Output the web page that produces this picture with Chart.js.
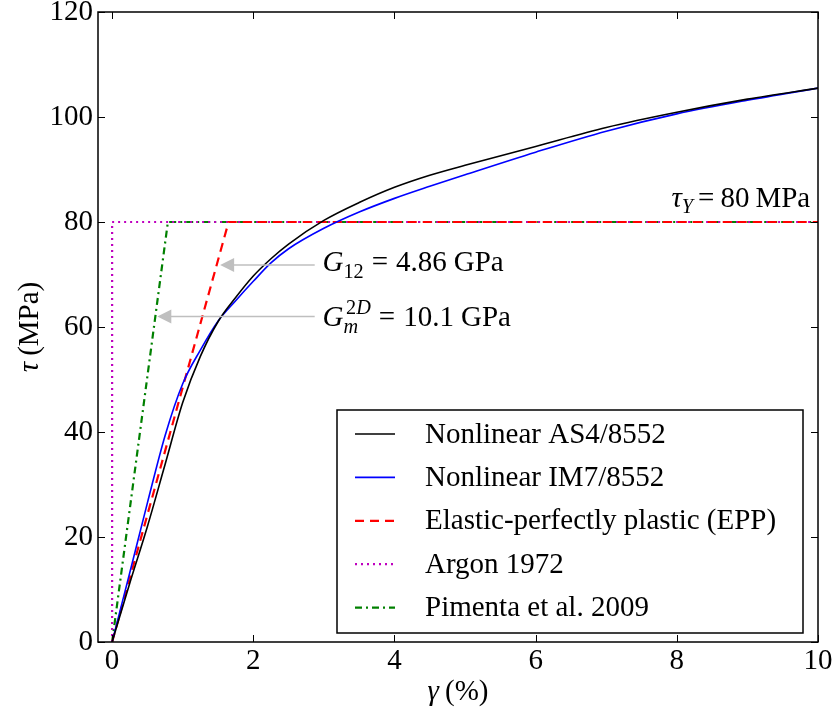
<!DOCTYPE html>
<html>
<head>
<meta charset="utf-8">
<script src="https://cdn.jsdelivr.net/npm/chart.js@4"></script>
<style>
  html, body { margin: 0; padding: 0; background: #fff; }
  #wrap { width: 835px; height: 712px; }
</style>
</head>
<body>
<div id="wrap"><canvas id="chart" width="835" height="712"></canvas></div>
<script>
// shear strain gamma (%) and shear stress tau (MPa)
const gammaNL = [0, 0.25, 0.5, 0.75, 1.0, 1.25, 1.5, 1.75, 2.0, 2.25, 2.5, 3.0, 3.5, 4.0, 4.5, 5.0, 6.0, 7.0, 8.0, 9.0, 10.0];
const tauAS4 = [0, 11.2, 22.0, 33.8, 45.6, 54.4, 61.0, 65.6, 69.7, 73.0, 75.8, 80.3, 83.7, 86.6, 88.9, 90.8, 94.4, 98.0, 100.9, 103.4, 105.5];
const tauIM7 = [0, 13.2, 26.5, 39.3, 49.2, 55.6, 61.1, 65.0, 68.7, 72.2, 74.9, 78.8, 81.9, 84.5, 86.8, 89.0, 93.3, 97.3, 100.6, 103.2, 105.5];

const gammaEPP = [0, 1.65, 10];
const tauEPP = [0, 80, 80];
const gammaArgon = [0, 0, 10];
const tauArgon = [0, 80, 80];
const gammaPimenta = [0, 0.79, 10];
const tauPimenta = [0, 80, 80];

const seriesLabels = ['Nonlinear AS4/8552', 'Nonlinear IM7/8552', 'Elastic-perfectly plastic (EPP)', 'Argon 1972', 'Pimenta et al. 2009'];
const xTicks = [0, 2, 4, 6, 8, 10];
const yTicks = [0, 20, 40, 60, 80, 100, 120];

const FONT = "'Liberation Serif', 'Times New Roman', serif";

const pts = (xs, ys) => xs.map((x, i) => ({ x: x, y: ys[i] }));

// draws a run of text pieces (italic / sub / sup) starting at x, baseline y
function drawRich(ctx, x, y, parts, size, align) {
  const measure = () => {
    let w = 0;
    parts.forEach(p => {
      const s = (p.sub || p.sup) ? size * 0.7 : size;
      ctx.font = (p.it ? 'italic ' : '') + s + 'px ' + FONT;
      w += ctx.measureText(p.t).width + (p.gap || 0);
    });
    return w;
  };
  if (align === 'right') x -= measure();
  if (align === 'center') x -= measure() / 2;
  parts.forEach(p => {
    const s = (p.sub || p.sup) ? size * 0.7 : size;
    ctx.font = (p.it ? 'italic ' : '') + s + 'px ' + FONT;
    let dy = 0;
    if (p.sub) dy = size * 0.22;
    if (p.sup) dy = -size * 0.42;
    ctx.fillText(p.t, x, y + dy);
    x += ctx.measureText(p.t).width + (p.gap || 0);
  });
}

function arrow(ctx, x1, y, x2) {
  // line from x1 (tail) to x2 (tip), head at tip
  ctx.save();
  ctx.strokeStyle = '#bfbfbf';
  ctx.fillStyle = '#bfbfbf';
  ctx.lineWidth = 1.5;
  ctx.beginPath();
  ctx.moveTo(x1, y);
  ctx.lineTo(x2 + 12, y);
  ctx.stroke();
  ctx.beginPath();
  ctx.moveTo(x2, y);
  ctx.lineTo(x2 + 14, y - 7);
  ctx.lineTo(x2 + 14, y + 7);
  ctx.closePath();
  ctx.fill();
  ctx.restore();
}

const decor = {
  id: 'decor',
  afterDatasetsDraw(chart) {
    const ctx = chart.ctx;
    const a = chart.chartArea;
    const xs = chart.scales.x, ys = chart.scales.y;
    ctx.save();
    ctx.fillStyle = '#000';
    ctx.textBaseline = 'alphabetic';

    // annotations
    arrow(ctx, xs.getPixelForValue(2.87), ys.getPixelForValue(71.8), xs.getPixelForValue(1.53));
    arrow(ctx, xs.getPixelForValue(2.87), ys.getPixelForValue(62.0), xs.getPixelForValue(0.64));
    drawRich(ctx, xs.getPixelForValue(2.98), ys.getPixelForValue(70.6),
      [{ t: 'G', it: true }, { t: '12', sub: true, gap: 8 }, { t: '=', gap: 8 }, { t: '4.86', gap: 7 }, { t: 'GPa' }], 29);
    drawRich(ctx, xs.getPixelForValue(2.98), ys.getPixelForValue(60.1),
      [{ t: 'G', it: true }, { t: 'm', it: true, sub: true, gap: -12 }, { t: '2', sup: true }, { t: 'D', it: true, sup: true, gap: 8 },
       { t: '=', gap: 8 }, { t: '10.1', gap: 7 }, { t: 'GPa' }], 29);
    drawRich(ctx, xs.getPixelForValue(9.89), ys.getPixelForValue(82.9),
      [{ t: 'τ', it: true }, { t: 'Y', it: true, sub: true, gap: 5 }, { t: '=', gap: 6 }, { t: '80', gap: 6 }, { t: 'MPa' }], 29, 'right');

    // frame
    ctx.strokeStyle = '#000';
    ctx.lineWidth = 1.5;
    ctx.strokeRect(a.left, a.top, a.right - a.left, a.bottom - a.top);

    // inward ticks on all four sides
    ctx.lineWidth = 1;
    ctx.beginPath();
    xTicks.forEach(v => {
      const px = Math.round(xs.getPixelForValue(v)) + 0.5;
      ctx.moveTo(px, a.bottom); ctx.lineTo(px, a.bottom - 7);
      ctx.moveTo(px, a.top); ctx.lineTo(px, a.top + 7);
    });
    yTicks.forEach(v => {
      const py = Math.round(ys.getPixelForValue(v)) + 0.5;
      ctx.moveTo(a.left, py); ctx.lineTo(a.left + 7, py);
      ctx.moveTo(a.right, py); ctx.lineTo(a.right - 7, py);
    });
    ctx.stroke();

    // legend
    const lx = 337, ly = 410, lw = 466, lh = 223;
    ctx.fillStyle = '#fff';
    ctx.fillRect(lx, ly, lw, lh);
    ctx.strokeStyle = '#000';
    ctx.lineWidth = 1.5;
    ctx.strokeRect(lx, ly, lw, lh);
    chart.data.datasets.forEach((ds, i) => {
      const ry = 434 + i * 43.4;
      ctx.save();
      ctx.strokeStyle = ds.borderColor;
      ctx.lineWidth = ds.borderWidth;
      ctx.setLineDash(ds.borderDash || []);
      ctx.beginPath();
      ctx.moveTo(355, ry); ctx.lineTo(395, ry);
      ctx.stroke();
      ctx.restore();
      ctx.fillStyle = '#000';
      ctx.font = '29px ' + FONT;
      ctx.textBaseline = 'middle';
      ctx.fillText(ds.label, 425, ry + 1);
    });

    // axis titles
    ctx.textBaseline = 'alphabetic';
    ctx.fillStyle = '#000';
    drawRich(ctx, (a.left + a.right) / 2, 700, [{ t: 'γ', it: true, gap: 6 }, { t: '(%)' }], 29, 'center');
    ctx.save();
    ctx.translate(38, (a.top + a.bottom) / 2);
    ctx.rotate(-Math.PI / 2);
    drawRich(ctx, 0, 0, [{ t: 'τ', it: true, gap: 6 }, { t: '(MPa)' }], 29, 'center');
    ctx.restore();

    ctx.restore();
  }
};

const ctx = document.getElementById('chart').getContext('2d');
new Chart(ctx, {
  type: 'line',
  data: {
    datasets: [
      { label: seriesLabels[0], data: pts(gammaNL, tauAS4), borderColor: '#000000', borderWidth: 1.6, cubicInterpolationMode: 'monotone' },
      { label: seriesLabels[1], data: pts(gammaNL, tauIM7), borderColor: '#0000ff', borderWidth: 1.6, cubicInterpolationMode: 'monotone' },
      { label: seriesLabels[2], data: pts(gammaEPP, tauEPP), borderColor: '#ff0000', borderWidth: 2.2, borderDash: [9, 6] },
      { label: seriesLabels[3], data: pts(gammaArgon, tauArgon), borderColor: '#bf00bf', borderWidth: 2.2, borderDash: [2, 4] },
      { label: seriesLabels[4], data: pts(gammaPimenta, tauPimenta), borderColor: '#008000', borderWidth: 2.2, borderDash: [7, 4, 2, 4] }
    ]
  },
  options: {
    responsive: false,
    animation: false,
    devicePixelRatio: 1,
    layout: { padding: { left: 0, right: 17, top: 12, bottom: 0 } },
    elements: { point: { radius: 0 }, line: { tension: 0, fill: false } },
    plugins: { legend: { display: false }, tooltip: { enabled: false } },
    scales: {
      x: {
        type: 'linear',
        min: -0.2,
        max: 10,
        grid: { display: false, drawTicks: false },
        border: { display: false },
        ticks: { stepSize: 2, padding: 2, color: '#000', font: { family: FONT, size: 29 } },
        afterBuildTicks: s => { s.ticks = xTicks.map(v => ({ value: v })); },
        afterFit: s => { s.height = 70; s.paddingLeft = 0; s.paddingRight = 0; }
      },
      y: {
        type: 'linear',
        min: 0,
        max: 120,
        grid: { display: false, drawTicks: false },
        border: { display: false },
        ticks: { stepSize: 20, padding: 5, color: '#000', font: { family: FONT, size: 29 } },
        afterBuildTicks: s => { s.ticks = yTicks.map(v => ({ value: v })); },
        afterFit: s => { s.width = 98; s.paddingTop = 0; s.paddingBottom = 0; }
      }
    }
  },
  plugins: [decor]
});
</script>
</body>
</html>
